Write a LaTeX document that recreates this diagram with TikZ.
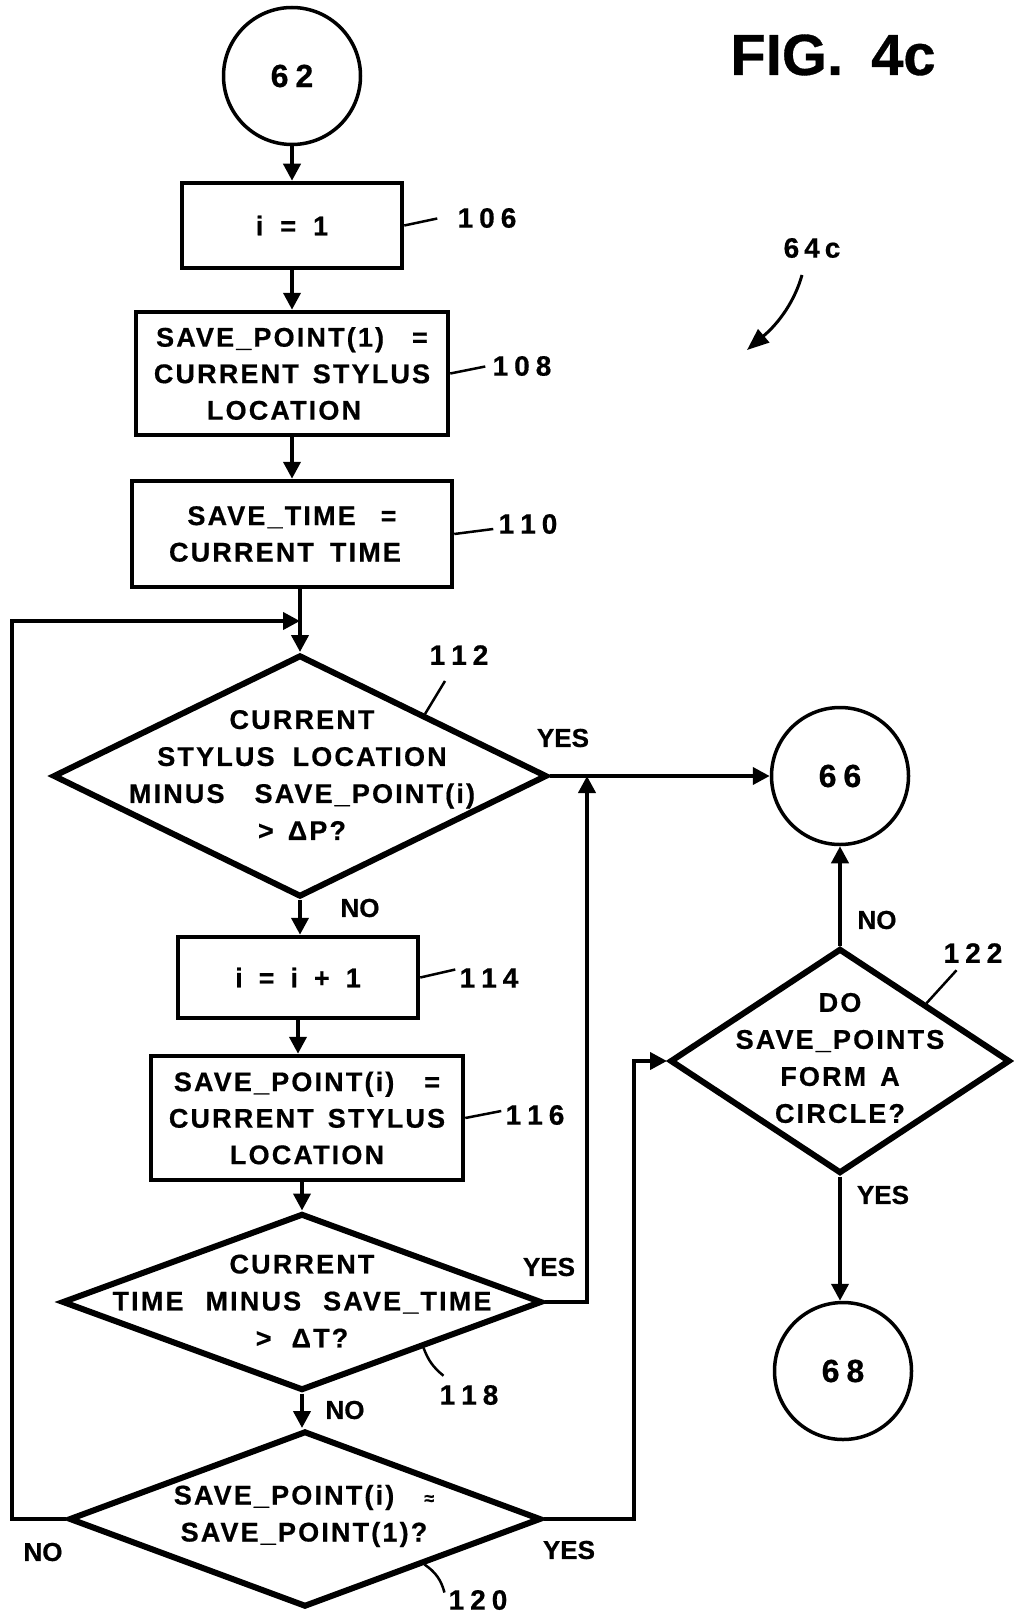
\documentclass[tikz,border=0pt]{standalone}
\usepackage{fontspec}
\setmainfont{Liberation Sans}[BoldFeatures={FakeBold=0.6}]
\newfontfamily\spfont{Liberation Sans}[LetterSpace=8, BoldFeatures={FakeBold=0.6}]
\usetikzlibrary{shapes.geometric,arrows.meta}
\begin{document}
\begin{tikzpicture}[x=1pt,y={(0pt,-1pt)},
  box/.style={draw, rectangle, line width=4.5pt, inner sep=0pt, align=center,
    font=\spfont\fontsize{27}{36.5}\selectfont\bfseries},
  dia/.style={draw, diamond, line width=6pt, inner sep=0pt},
  circ/.style={draw, circle, line width=3.5pt, minimum size=137pt, inner sep=0pt,
    font=\fontsize{32}{36}\selectfont\bfseries},
  txt/.style={font=\spfont\fontsize{27}{37}\selectfont\bfseries, align=center, inner sep=0pt},
  yn/.style={font=\fontsize{26}{30}\selectfont\bfseries, inner sep=0pt},
  num/.style={font=\fontsize{28}{30}\selectfont\bfseries, inner sep=0pt},
  arr/.style={line width=4pt, -{Triangle[length=17pt,width=17pt]}},
  lead/.style={line width=2.5pt}]
\useasboundingbox (0,0) rectangle (1013,1613);

% nodes
\node[circ] (c62) at (292,76) {6\kern7pt2};
\node[box, minimum width=220pt, minimum height=85pt] (b106) at (292,225.5)
  {i\hspace{17pt}=\hspace{17pt}1};
\node[box, minimum width=312pt, minimum height=123pt] (b108) at (292,373.5)
  {SAVE\_POINT(1)\hspace{28pt}=\\CURRENT\hspace{14pt}STYLUS\\LOCATION\hspace*{16pt}};
\node[box, minimum width=320pt, minimum height=106pt] (b110) at (292,534)
  {SAVE\_TIME\hspace{25pt}=\\CURRENT\hspace{16pt}TIME\hspace*{14pt}};

\node[dia, minimum width=494pt, minimum height=242pt] (d112) at (300,776) {};
\node[txt] (t112) at (302,775)
  {CURRENT\\STYLUS\hspace{18pt}LOCATION\\MINUS\hspace{30pt}SAVE\_POINT(i)\\>\hspace{14pt}ΔP?};

\node[box, minimum width=240pt, minimum height=81pt] (b114) at (298,977.5)
  {i\hspace{16pt}=\hspace{16pt}i\hspace{16pt}+\hspace{16pt}1};
\node[box, minimum width=312pt, minimum height=124pt] (b116) at (307,1118)
  {SAVE\_POINT(i)\hspace{30pt}=\\CURRENT\hspace{14pt}STYLUS\\LOCATION};

\node[dia, minimum width=480pt, minimum height=177pt] (d118) at (302,1302) {};
\node[txt] (t118) at (302,1301)
  {CURRENT\\TIME\hspace{22pt}MINUS\hspace{22pt}SAVE\_TIME\\>\hspace{20pt}ΔT?};

\node[dia, minimum width=472pt, minimum height=176pt] (d120) at (305,1519) {};
\node[txt] (t120) at (304,1516)
  {SAVE\_POINT(i)\hspace{30pt}{\fontsize{18}{18}\selectfont ≈}\\SAVE\_POINT(1)?};

\node[circ] (c66) at (840,776) {6\kern7pt6};
\node[dia, minimum width=340pt, minimum height=225pt] (d122) at (840,1061) {};
\node[txt] (t122) at (840,1058) {DO\\SAVE\_POINTS\\FORM\hspace{14pt}A\\CIRCLE?};
\node[circ] (c68) at (843,1371) {6\kern7pt8};

% coordinates
\coordinate (loopin) at (d112.north |- 0,621);
\coordinate (lx) at (12,1519);
\coordinate (yin) at (587,776);
\coordinate (rx) at (634,1061);

% connectors
\draw[arr] (c62) -- (b106);
\draw[arr] (b106) -- (b108);
\draw[arr] (b108) -- (b110);
\draw[arr] (d112.north |- b110.south) -- (d112.north);
\draw[arr] (d120.west) -- (lx) |- (loopin);
\draw[arr] (d112) -- (c66);
\draw[arr] (d118.east) -| (yin);
\draw[arr] (d112.south) -- (d112.south |- b114.north);
\draw[arr] (b114.south) -- (b114.south |- b116.north);
\draw[arr] (d118.north |- b116.south) -- (d118.north);
\draw[arr] (d118.south) -- (d118.south |- d120.north);
\draw[arr] (d120.east) -| (rx) -- (d122.west);
\draw[arr] (d122) -- (c66);
\draw[arr] (d122.south) -- (d122.south |- c68.north);

% yes/no labels
\node[yn] (y112) at (563,738) {YES};
\node[yn] (n112) at (360,908) {NO};
\node[yn] (y118) at (549,1267) {YES};
\node[yn] (n118) at (345,1410) {NO};
\node[yn] (n120) at (43,1552) {NO};
\node[yn] (y120) at (569,1550) {YES};
\node[yn] (n122) at (877,920) {NO};
\node[yn] (y122) at (883,1195) {YES};

% reference numerals
\node[num] (l106) at (487,218) {1\kern6pt0\kern6pt6};
\node[num] (l108) at (522,366) {1\kern6pt0\kern6pt8};
\node[num] (l110) at (528,524) {1\kern6pt1\kern6pt0};
\node[num] (l112) at (459,655) {1\kern6pt1\kern6pt2};
\node[num] (l114) at (489,978) {1\kern6pt1\kern6pt4};
\node[num] (l116) at (535,1115) {1\kern6pt1\kern6pt6};
\node[num] (l118) at (469,1395) {1\kern6pt1\kern6pt8};
\node[num] (l120) at (478,1600) {1\kern6pt2\kern6pt0};
\node[num] (l122) at (973,953) {1\kern6pt2\kern6pt2};

\draw[lead] (b106.east) -- ++(33,-7);
\draw[lead] (b108.east) -- ++(35,-7);
\draw[lead] (b110.east) -- ++(39,-5);
\draw[lead] (b114.east) -- ++(35,-8);
\draw[lead] (b116.east) -- ++(36,-7);
\draw[lead] (d112.north east) -- ++(20,-33);
\draw[lead] (d118.south east) to[bend right=15] ++(20,28);
\draw[lead] (d120.south east) to[bend left=20] ++(20,28);
\draw[lead] (d122.north east) -- ++(30,-33);

% title and reference arrow
\node[font=\fontsize{58}{60}\selectfont\bfseries, inner sep=0pt] (fig) at (833,55) {FIG.\hspace{28pt}4c};
\node[num] (n64c) at (812,248) {6\kern5pt4\kern5pt c};
\coordinate (a64) at (802,275);
\coordinate (b64) at (747,350);
\draw[line width=3pt, -{Triangle[length=22pt,width=17pt]}] (a64) .. controls (795,300) and (780,322) .. (b64);
\end{tikzpicture}
\end{document}
